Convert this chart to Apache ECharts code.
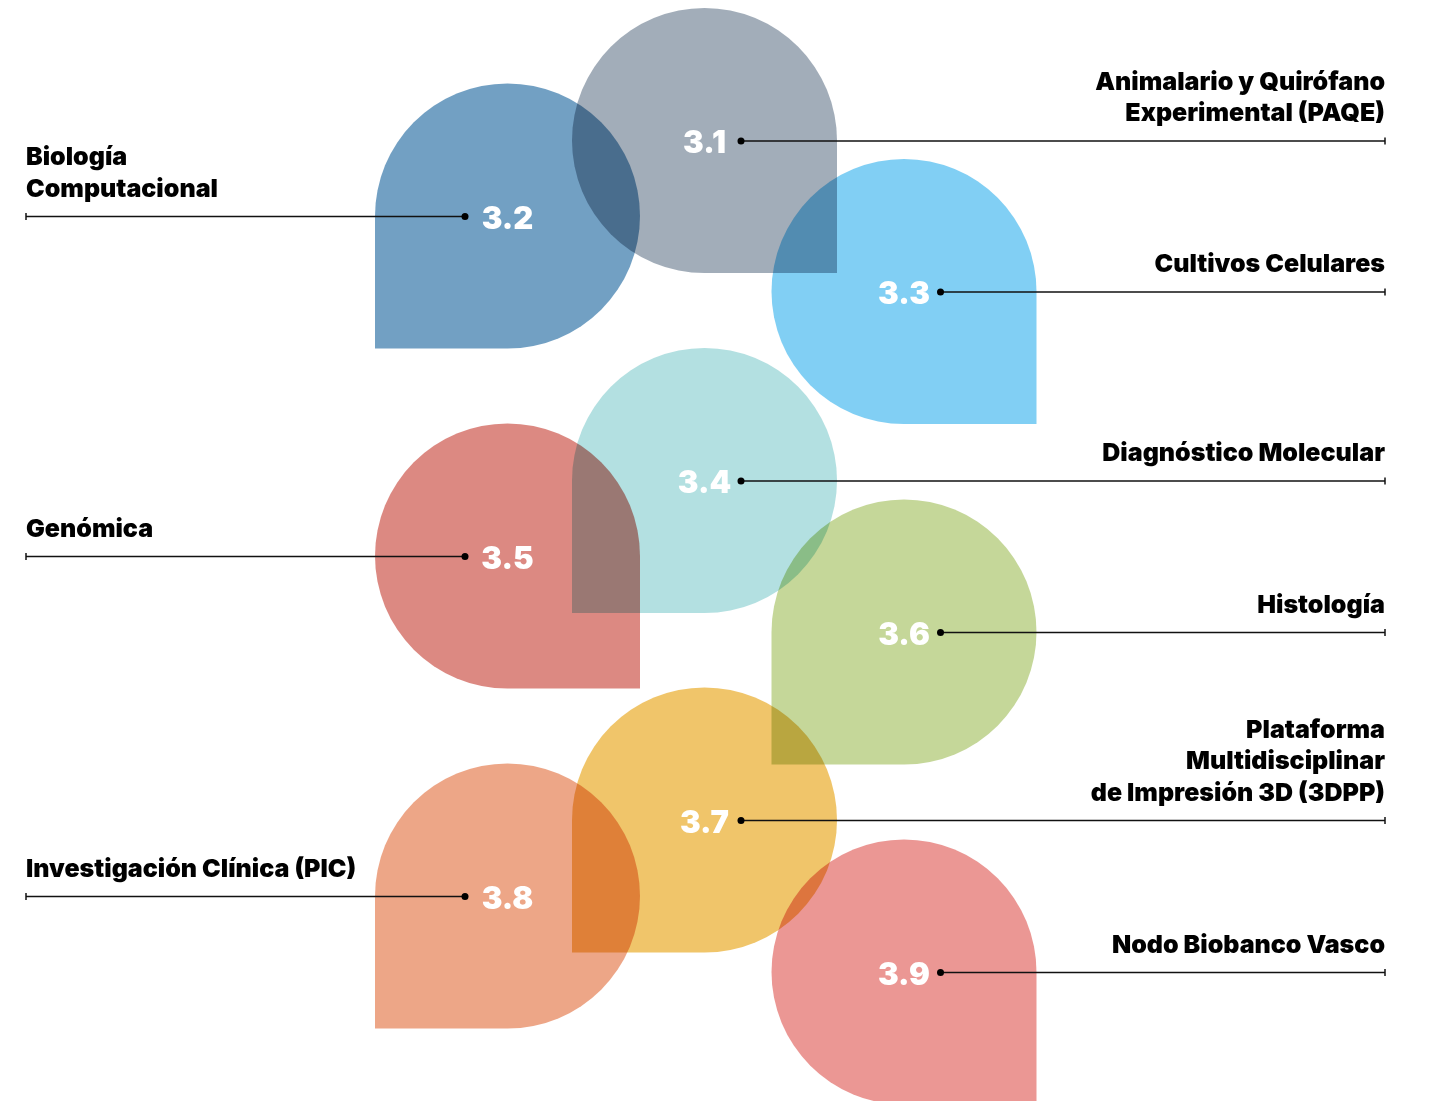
<!DOCTYPE html>
<html>
<head>
<meta charset="utf-8">
<script src="https://cdn.jsdelivr.net/npm/echarts@6/dist/echarts.min.js"></script>
<style>
  html, body { margin: 0; padding: 0; background: #fff; }
  #chart { width: 1430px; height: 1101px; }
</style>
</head>
<body>
<div id="chart"></div>
<script>
// datos de las plataformas
const codes = ['3.1', '3.2', '3.3', '3.4', '3.5', '3.6', '3.7', '3.8', '3.9']
const names = [
  'Animalario y Quirófano\nExperimental (PAQE)',
  'Biología\nComputacional',
  'Cultivos Celulares',
  'Diagnóstico Molecular',
  'Genómica',
  'Histología',
  'Plataforma\nMultidisciplinar\nde Impresión 3D (3DPP)',
  'Investigación Clínica (PIC)',
  'Nodo Biobanco Vasco'
]
const xs = [704.5, 507.5, 904, 704.5, 507.5, 904, 704.5, 507.5, 904]
const ys = [140.5, 216, 291.5, 480.5, 556, 632, 820, 896, 972]
const sides = ['right', 'left', 'right', 'right', 'left', 'right', 'right', 'left', 'right']
const corners = ['br', 'bl', 'br', 'bl', 'br', 'bl', 'bl', 'bl', 'br']

const palette = ['#a2adb9', '#72a0c3', '#81cff4', '#b3e0e1', '#dc8982', '#c5d799', '#f0c56a', '#eda687', '#eb9794']
const RADIUS = 132.5
const FONT = 'Inter'

const source = codes.map((c, i) => [xs[i], ys[i], c, names[i], sides[i], corners[i]])

function dropPath(cx, cy, r, corner) {
  const pts = {
    R: [cx + r, cy], B: [cx, cy + r], L: [cx - r, cy], T: [cx, cy - r]
  }
  const quads = [
    ['br', 'B', [cx + r, cy + r]],
    ['bl', 'L', [cx - r, cy + r]],
    ['tl', 'T', [cx - r, cy - r]],
    ['tr', 'R', [cx + r, cy - r]]
  ]
  let d = 'M' + pts.R[0] + ' ' + pts.R[1]
  quads.forEach(([q, end, c]) => {
    const p = pts[end]
    if (q === corner) {
      d += ' L' + c[0] + ' ' + c[1] + ' L' + p[0] + ' ' + p[1]
    } else {
      d += ' A' + r + ' ' + r + ' 0 0 1 ' + p[0] + ' ' + p[1]
    }
  })
  return d + ' Z'
}

function renderShape(params, api) {
  const c = api.coord([api.value(0), api.value(1)])
  const r = api.size([RADIUS, RADIUS])[0]
  return {
    type: 'path',
    name: 'drop',
    shape: { pathData: dropPath(c[0], c[1], r, api.value(5)) },
    style: { fill: palette[params.dataIndex] }
  }
}

function renderLabel(params, api) {
  const c = api.coord([api.value(0), api.value(1)])
  const side = api.value(4)
  const w = api.getWidth()
  const right = side === 'right'
  const dotX = right ? c[0] + 36.5 : c[0] - 42.5
  const endX = right ? w - 45 : 26
  const y = c[1] + 0.5
  return {
    type: 'group',
    children: [
      {
        type: 'text',
        style: {
          text: api.value(2), x: c[0], y: c[1] + 3.5,
          align: 'center', verticalAlign: 'middle',
          fill: '#fff', font: '900 31px ' + FONT
        }
      },
      {
        type: 'line',
        shape: { x1: dotX, y1: y, x2: endX, y2: y },
        style: { stroke: '#111', lineWidth: 1.5 }
      },
      {
        type: 'line',
        shape: { x1: endX, y1: y - 3.5, x2: endX, y2: y + 3.5 },
        style: { stroke: '#111', lineWidth: 1.5 }
      },
      {
        type: 'circle',
        shape: { cx: dotX, cy: y, r: 3.5 },
        style: { fill: '#000' }
      },
      {
        type: 'text',
        style: {
          text: api.value(3),
          x: endX, y: y - 11.5,
          align: right ? 'right' : 'left',
          verticalAlign: 'bottom',
          lineHeight: 31.5,
          fill: '#000',
          font: '900 25px ' + FONT
        }
      }
    ]
  }
}

const chart = echarts.init(document.getElementById('chart'))
chart.setOption({
  backgroundColor: '#fff',
  animation: false,
  grid: { left: 0, right: 0, top: 0, bottom: 0 },
  xAxis: { type: 'value', min: 0, max: 1430, show: false },
  yAxis: { type: 'value', min: 0, max: 1101, inverse: true, show: false },
  dataset: { source },
  series: [
    {
      type: 'custom',
      renderItem: renderShape,
      encode: { x: 0, y: 1 },
      z: 1,
      silent: true
    },
    {
      type: 'custom',
      renderItem: renderLabel,
      encode: { x: 0, y: 1 },
      z: 2,
      silent: true
    }
  ]
})

// las formas se superponen en modo multiplicar
const zr = chart.getZr()
zr.storage.getDisplayList(true).forEach(el => {
  if (el.name === 'drop') {
    el.style.blend = 'multiply'
    el.markRedraw()
  }
})
zr.refreshImmediately()
</script>
</body>
</html>
